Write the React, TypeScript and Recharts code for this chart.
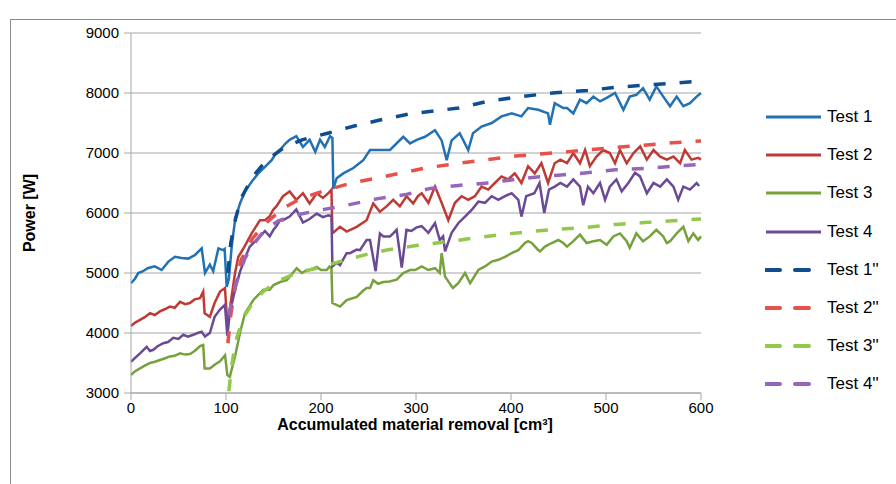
import { LineChart, Line, XAxis, YAxis, CartesianGrid } from "recharts";

// accumulated material removal [cm3] -> power [W]
const test1: [number, number][] = [
  [0, 4830], [4, 4900], [7.7, 5000], [12.6, 5030], [17.5, 5080], [25, 5110], [32.3, 5050],
  [39.3, 5190], [46.3, 5270], [53.3, 5250], [60.3, 5240], [67.4, 5300], [74.4, 5410], [77.9, 5000],
  [83, 5140], [86.5, 5030], [92, 5410], [97, 5380], [98.6, 5400], [100.7, 4770], [103, 4900],
  [106, 5440], [109.5, 5880], [114.7, 6160], [120, 6360], [127, 6520], [134, 6660], [141, 6770],
  [148, 6880], [151.6, 6970], [157, 7050], [162, 7150], [167, 7220], [174, 7280], [181, 7100],
  [188, 7220], [194, 7020], [199, 7220], [204, 7100], [209.5, 7280], [212, 7250], [213, 6400],
  [216.5, 6580], [223.5, 6660], [234, 6750], [244.5, 6880], [251.6, 7050], [262, 7050],
  [272.6, 7050], [286.6, 7270], [293.7, 7160], [300.7, 7220], [309.5, 7270], [320, 7380],
  [327, 7210], [332.3, 6880], [337.5, 7210], [346, 7330], [355, 7050], [360, 7330], [369, 7440],
  [379.7, 7500], [390, 7610], [400.7, 7660], [411, 7610], [418, 7750], [428.7, 7720], [439, 7660],
  [441, 7470], [446, 7830], [455, 7750], [459, 7750], [465.6, 7660], [472.6, 7890], [479.6, 7830],
  [486.7, 7940], [493.7, 7860], [500.7, 7920], [509.5, 8000], [518.3, 7720], [525, 7940],
  [532, 7970], [539, 8080], [546, 7890], [553, 8110], [560.3, 7940], [567.4, 7780], [574.4, 7940],
  [581.4, 7780], [588.4, 7830], [595.4, 7940], [600, 8000],
];

const test2: [number, number][] = [
  [0, 4117], [4, 4170], [9.5, 4220], [14, 4260], [20, 4330], [25, 4300], [30.5, 4360], [36, 4400],
  [41, 4440], [46, 4420], [51.6, 4520], [57, 4480], [62, 4500], [67, 4560], [72.6, 4580],
  [76, 4690], [77.5, 4330], [83, 4270], [88, 4500], [93.7, 4690], [98.9, 4750], [101.4, 4150],
  [104, 4400], [109.5, 5000], [113, 5270], [118, 5400], [127, 5660], [135.8, 5880], [141, 5880],
  [146, 5945], [149.5, 6050], [153, 6110], [160, 6280], [167, 6360], [174, 6220], [181, 6330],
  [188, 6160], [195.5, 6330], [202, 6250], [207.7, 6330], [211, 6390], [212, 5660], [220, 5770],
  [227, 5690], [237.6, 5770], [248, 5880], [255, 6160], [262, 6020], [269, 6110], [276, 6220],
  [283, 6110], [290, 6280], [297, 6160], [302, 6280], [306, 6330], [313, 6170], [320, 6440],
  [327, 6170], [334, 5880], [341, 6170], [348, 6280], [355, 6220], [362, 6280], [369, 6440],
  [376, 6390], [383, 6500], [390, 6610], [397, 6560], [404, 6660], [411, 6500], [418, 6780],
  [425, 6660], [432, 6830], [439, 6500], [446, 6830], [452, 6890], [459, 6830], [465.6, 7000],
  [472.6, 6830], [478, 7050], [483, 6780], [490, 6940], [497, 7050], [504, 7000], [509.5, 6830],
  [514.7, 7050], [521.8, 6830], [529, 7000], [536, 7110], [543, 6890], [550, 7050], [557, 6940],
  [564, 6890], [571, 6940], [578, 6830], [583, 7050], [590, 6890], [597, 6920], [600, 6890],
];

const test3: [number, number][] = [
  [0, 3300], [4, 3360], [9.5, 3410], [15, 3460], [20, 3500], [25, 3520], [30.5, 3550], [36, 3580],
  [41, 3610], [46, 3620], [51.6, 3660], [57, 3640], [62, 3650], [67, 3700], [72.6, 3780],
  [76, 3800], [77.5, 3410], [83, 3410], [88, 3470], [93.7, 3530], [99, 3630], [101.4, 3300],
  [104, 3270], [109.5, 3610], [114.7, 4000], [120, 4330], [128.8, 4550], [139.3, 4720],
  [146, 4720], [150, 4800], [157, 4850], [164, 4880], [167, 4940], [174.4, 5080], [180, 5000],
  [185, 5050], [188, 5050], [195.5, 5100], [200, 5050], [206, 5050], [209, 5110], [211, 5070],
  [212, 4500], [220, 4440], [227, 4550], [237.6, 4600], [244, 4700], [248, 4750], [251.6, 4750],
  [255, 4880], [260, 4820], [265.6, 4850], [272, 4860], [279.6, 4890], [286.6, 5000],
  [293.7, 5050], [299, 5050], [306, 5110], [313, 5050], [320, 5080], [325, 5000], [327, 5330],
  [330.6, 4940], [337.5, 4780], [339, 4750], [344.5, 4830], [351.6, 5000], [357, 4830],
  [365.6, 5050], [372.6, 5110], [379.7, 5190], [386.7, 5220], [393.7, 5270], [400.7, 5330],
  [407.7, 5380], [414.7, 5500], [418, 5530], [421.8, 5500], [428.8, 5380], [430.5, 5360],
  [435.8, 5440], [442.8, 5500], [449.8, 5550], [455, 5500], [459, 5440], [465.6, 5530],
  [472.6, 5640], [479.6, 5500], [486.7, 5530], [493.7, 5550], [500.7, 5470], [507.7, 5610],
  [514.7, 5660], [521.8, 5530], [525, 5420], [532, 5660], [539, 5530], [546, 5610], [553, 5720],
  [560.3, 5610], [564, 5500], [567.4, 5530], [574.4, 5660], [581.4, 5770], [586.7, 5530],
  [591.9, 5660], [597, 5550], [600, 5610],
];

const test4: [number, number][] = [
  [0, 3520], [4, 3580], [9.5, 3660], [16.5, 3770], [20, 3700], [23.5, 3720], [28, 3780],
  [34, 3830], [39, 3850], [44.5, 3920], [50, 3900], [55, 3970], [60, 3940], [65.6, 3970],
  [70, 4000], [74.4, 4020], [77.9, 3940], [83, 4000], [88, 4270], [93.7, 4390], [98.9, 4470],
  [101.4, 3950], [104, 4330], [109.5, 4720], [114.7, 5020], [120, 5250], [125, 5440], [130, 5520],
  [135.8, 5610], [141, 5700], [146, 5610], [150, 5720], [153, 5780], [157, 5880], [160, 5880],
  [167, 5940], [174, 6060], [181, 5840], [188, 5900], [195.5, 5990], [202, 5930], [207.7, 5960],
  [211, 5950], [212, 5110], [216.5, 5170], [220, 5130], [227, 5330], [230.5, 5330],
  [237.6, 5390], [241, 5380], [248, 5550], [251.6, 5550], [257.5, 5030], [262, 5660],
  [265.6, 5610], [272.6, 5610], [276, 5660], [279.6, 5720], [285, 5090], [290, 5720],
  [295, 5700], [300.7, 5760], [306, 5780], [313, 5670], [320, 5830], [325, 5550], [328.5, 5610],
  [330.6, 5360], [337.5, 5670], [344.5, 5830], [351.6, 5940], [358.6, 6050], [365.6, 6190],
  [372.6, 6170], [379.7, 6280], [386.7, 6220], [393.7, 6280], [400.7, 6330], [407.7, 6220],
  [411, 5940], [416, 6280], [424.6, 6330], [430, 6500], [435, 6000], [440, 6390], [446, 6440],
  [452, 6500], [459, 6440], [465.6, 6560], [472.6, 6440], [476, 6130], [481, 6440], [486.7, 6330],
  [493.7, 6500], [499, 6220], [504, 6440], [511, 6560], [516.5, 6360], [523.5, 6500],
  [530.5, 6670], [535.8, 6610], [543, 6330], [550, 6500], [557, 6440], [564, 6560], [571, 6440],
  [576, 6220], [581.4, 6440], [588.4, 6390], [595.4, 6500], [598, 6450],
];

const test1m: [number, number][] = [
  [102, 5000], [105, 5500], [110, 5900], [116, 6250], [128, 6600], [142, 6870], [160, 7080],
  [180, 7220], [207, 7330], [235, 7450], [262, 7550], [293, 7650], [345, 7750], [375, 7860],
  [410, 7940], [447, 8005], [480, 8040], [510, 8095], [540, 8130], [570, 8160], [600, 8200],
];

const test2m: [number, number][] = [
  [102, 3830], [105, 4300], [110, 4800], [116, 5220], [128, 5580], [142, 5830], [160, 6080],
  [180, 6250], [205, 6380], [232, 6500], [258, 6580], [292, 6690], [310, 6750], [345, 6830],
  [375, 6890], [405, 6950], [448, 7005], [480, 7050], [510, 7095], [540, 7130], [570, 7170],
  [600, 7200],
];

const test3m: [number, number][] = [
  [103, 3030], [106, 3450], [110, 3850], [115, 4100], [120, 4300], [130, 4550], [140, 4700],
  [155, 4870], [175, 5000], [195, 5080], [213, 5160], [243, 5290], [268, 5380], [297, 5450],
  [332, 5520], [360, 5580], [395, 5650], [420, 5690], [450, 5730], [480, 5760], [510, 5810],
  [540, 5840], [570, 5870], [600, 5900],
];

const test4m: [number, number][] = [
  [103, 4300], [110, 4800], [120, 5250], [130, 5500], [140, 5700], [155, 5870], [175, 5970],
  [200, 6050], [230, 6140], [260, 6240], [290, 6310], [315, 6410], [345, 6460], [375, 6500],
  [405, 6560], [425, 6595], [450, 6630], [480, 6670], [510, 6720], [540, 6740], [570, 6780],
  [600, 6810],
];

const xTicks = [0, 100, 200, 300, 400, 500, 600];
const yTicks = [3000, 4000, 5000, 6000, 7000, 8000, 9000];

const series = [
  { name: "Test 1", data: test1, color: "#2271B3", dashed: false },
  { name: "Test 2", data: test2, color: "#BE3B35", dashed: false },
  { name: "Test 3", data: test3, color: "#76A13C", dashed: false },
  { name: "Test 4", data: test4, color: "#6A4A95", dashed: false },
  { name: "Test 1''", data: test1m, color: "#0E4D8F", dashed: true },
  { name: "Test 2''", data: test2m, color: "#E8504A", dashed: true },
  { name: "Test 3''", data: test3m, color: "#92C94A", dashed: true },
  { name: "Test 4''", data: test4m, color: "#9566BC", dashed: true },
];

const toPoints = (arr: [number, number][]) => arr.map(([x, y]) => ({ x, y }));

const FONT = "'Liberation Sans', Arial, sans-serif";

export default function App() {
  return (
    <div style={{ position: "relative", width: 896, height: 484, background: "#fff", fontFamily: FONT }}>
      <style>{"body{margin:0}"}</style>
      {/* chart area frame */}
      <div
        style={{
          position: "absolute",
          left: 10,
          top: 19,
          width: 886,
          height: 465,
          boxSizing: "border-box",
          borderLeft: "1.5px solid #8c8c8c",
          borderTop: "1.5px solid #8c8c8c",
        }}
      />
      <LineChart
        width={896}
        height={484}
        margin={{ top: 33, right: 195, bottom: 61, left: 71 }}
        style={{ position: "absolute", left: 0, top: 0 }}
      >
        <CartesianGrid vertical={false} stroke="#a6a6a6" strokeWidth={1.2} />
        <XAxis
          dataKey="x"
          type="number"
          domain={[0, 600]}
          ticks={xTicks}
          allowDuplicatedCategory={false}
          height={30}
          stroke="#a6a6a6"
          tickSize={7}
          tick={{ fill: "#000", fontSize: 15, fontFamily: FONT }}
          tickMargin={2}
        />
        <YAxis
          type="number"
          domain={[3000, 9000]}
          ticks={yTicks}
          width={60}
          stroke="#a6a6a6"
          tickSize={7}
          tick={{ fill: "#000", fontSize: 15, fontFamily: FONT }}
          tickMargin={5}
        />
        {series.map((s) => (
          <Line
            key={s.name}
            data={toPoints(s.data)}
            dataKey="y"
            name={s.name}
            stroke={s.color}
            strokeWidth={s.dashed ? 3.5 : 2.5}
            strokeDasharray={s.dashed ? "12 14" : undefined}
            dot={false}
            activeDot={false}
            isAnimationActive={false}
          />
        ))}
      </LineChart>
      <div
        style={{
          position: "absolute",
          left: 0,
          top: 416,
          width: 830,
          lineHeight: "18px",
          textAlign: "center",
          fontSize: 16,
          fontWeight: "bold",
        }}
      >
        Accumulated material removal [cm³]
      </div>
      <div
        style={{
          position: "absolute",
          left: 30,
          top: 213,
          transform: "translate(-50%, -50%) rotate(-90deg)",
          whiteSpace: "nowrap",
          fontSize: 16,
          fontWeight: "bold",
        }}
      >
        Power [W]
      </div>
      {series.map((s, i) => (
        <div
          key={s.name}
          style={{
            position: "absolute",
            left: 765,
            top: 117 + i * 38.2 - 11,
            height: 22,
            display: "flex",
            alignItems: "center",
            fontSize: 17,
            whiteSpace: "nowrap",
          }}
        >
          <svg width={58} height={10} style={{ marginRight: 4 }}>
            {s.dashed ? (
              <>
                <line x1={1} y1={5} x2={15} y2={5} stroke={s.color} strokeWidth={4} strokeLinecap="round" />
                <line x1={30} y1={5} x2={44} y2={5} stroke={s.color} strokeWidth={4} strokeLinecap="round" />
              </>
            ) : (
              <line x1={1} y1={5} x2={56} y2={5} stroke={s.color} strokeWidth={3} />
            )}
          </svg>
          <span>{s.name}</span>
        </div>
      ))}
    </div>
  );
}
